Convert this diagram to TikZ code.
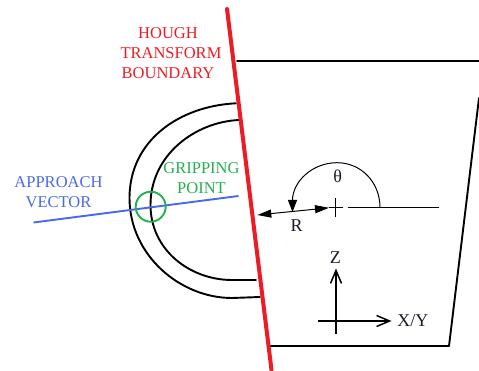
\documentclass[tikz,border=0pt]{standalone}
\usepackage{fontspec}
\setmainfont{Liberation Serif}
\usetikzlibrary{arrows.meta,calc}
\definecolor{hred}{RGB}{237,28,36}
\definecolor{hgreen}{RGB}{34,177,76}
\definecolor{hblue}{RGB}{72,104,240}
\definecolor{htext}{RGB}{25,25,45}
\tikzset{
  x=1pt,y=-1pt,
  wall/.style={draw=black,line width=1.9pt,line cap=round,line join=round},
  axis/.style={draw=black,line width=1.6pt,line cap=butt},
  fine/.style={draw=black,line width=1pt},
  label text/.style={font=\fontsize{16.5}{20}\selectfont,align=center,inner sep=0pt},
  dark text/.style={font=\fontsize{18}{20}\selectfont,text=htext,inner sep=0pt},
  solid tip/.style={{Triangle[length=14pt,width=8pt]}-{Triangle[length=14pt,width=8pt]}},
  arc tip/.style={-{Triangle[length=12pt,width=9pt]}},
  open tip/.style={-{Straight Barb[length=13pt,width=11pt,line width=1.5pt]}}
}
\begin{document}
\begin{tikzpicture}
\useasboundingbox (0,0) rectangle (479,371);
% key points
\coordinate (trayA) at (237,61);
\coordinate (trayB) at (479,61);
\coordinate (trayC) at (479,98);
\coordinate (trayD) at (449,346);
\coordinate (trayE) at (270,346);
\coordinate (redT) at (227,9);
\coordinate (redB) at (271.5,370);
\coordinate (blueA) at (33.5,222.5);
\coordinate (blueB) at (238.5,196);
\coordinate (gp) at (150.7,206.7);
\coordinate (cen) at (335.5,207.7);
\coordinate (rayA) at (347.5,207.7);
\coordinate (rayB) at (438.7,207.7);
\coordinate (arcS) at (380,207.7);
\coordinate (arcE) at (292.5,212);
\coordinate (rL) at (257.3,215);
\coordinate (rR) at (329,207.8);
\coordinate (zB) at (336,333.5);
\coordinate (zT) at (336,268.5);
\coordinate (xL) at (318.3,321);
\coordinate (xR) at (391.5,321);
% tray
\draw[wall] (trayA) -- (trayB);
\draw[wall] (trayC) -- (trayD) -- (trayE);
% handle
\draw[wall] (236,103.3) .. controls (180,106) and (129.5,140) .. (129.5,198)
  .. controls (129.5,255) and (180,298) .. (232,298) -- (260,297);
\draw[wall] (239,120) .. controls (195,122) and (150.5,155) .. (150.5,205)
  .. controls (150.5,250) and (190,280) .. (232,280) -- (256,280);
% approach vector
\draw[draw=hblue,line width=1.9pt] (blueA) -- (blueB);
% gripping circle
\node[circle,draw=hgreen,line width=1.9pt,minimum size=30pt,inner sep=0pt] (grip) at (gp) {};
% boundary
\draw[draw=hred,line width=4pt,line cap=round] (redT) -- (redB);
% centre
\draw[axis] ($(cen)+(-7,0)$) -- ($(cen)+(7.5,0)$);
\draw[axis] ($(cen)+(0,-9.5)$) -- ($(cen)+(0,9.5)$);
% theta
\draw[fine] (rayA) -- (rayB);
\draw[fine,arc tip] (arcS) .. controls (380,182) and (361,162.7) .. (337,162.7)
  .. controls (312,162.7) and (292.5,182) .. (arcE);
% R
\draw[fine,solid tip] (rL) -- (rR);
% axes
\draw[axis,open tip] (zB) -- (zT);
\draw[axis,open tip] (xL) -- (xR);
% labels
\node[label text,text=hred] (hough) at (168,53) {HOUGH\\\hspace{6pt}TRANSFORM\\BOUNDARY};
\node[label text,text=hblue] (approach) at (58.5,192) {APPROACH\\VECTOR};
\node[label text,text=hgreen] (gripping) at (201.5,177.7) {GRIPPING\\POINT};
\node[dark text] (theta) at (337.7,176.7) {θ};
\node[dark text] (rlabel) at (296.7,226) {R};
\node[dark text] (zlabel) at (335.3,257.7) {Z};
\node[dark text] (xylabel) at (412.8,320.7) {X/Y};
\end{tikzpicture}
\end{document}
